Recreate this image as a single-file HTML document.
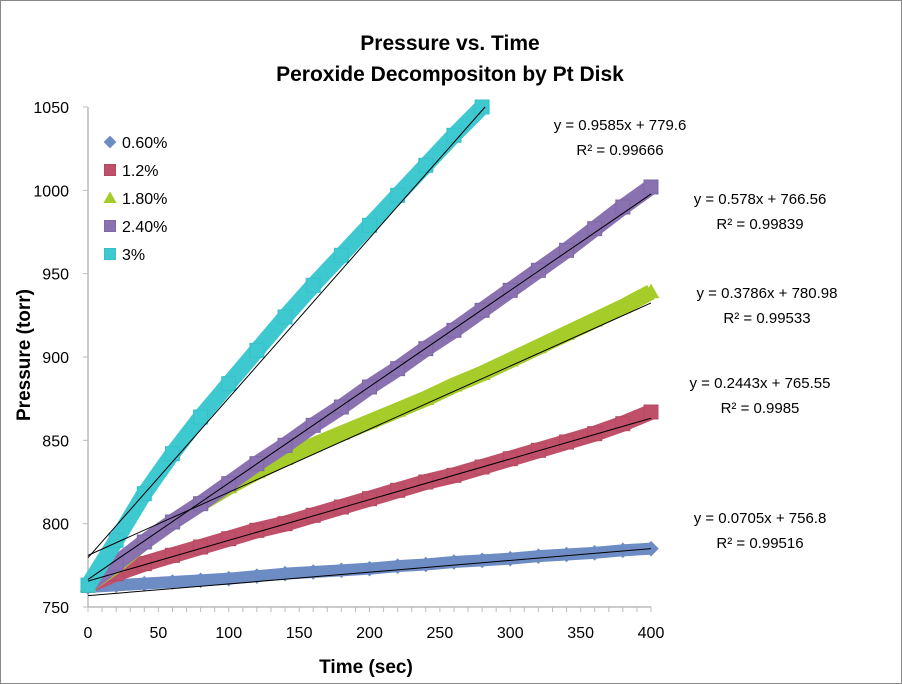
<!DOCTYPE html>
<html><head><meta charset="utf-8"><style>
html,body{margin:0;padding:0;background:#fff}
svg{display:block;font-family:"Liberation Sans",Arial,sans-serif}
</style></head><body>
<svg id="chart" width="902" height="684" viewBox="0 0 902 684" xmlns="http://www.w3.org/2000/svg">
<rect x="0.5" y="0.5" width="901" height="683" fill="#fff" stroke="#888"/>
<text x="450" y="50" text-anchor="middle" font-size="21" font-weight="bold">Pressure vs. Time</text>
<text x="450" y="81" text-anchor="middle" font-size="21" font-weight="bold">Peroxide Decompositon by Pt Disk</text>
<text x="366" y="673" text-anchor="middle" font-size="19" font-weight="bold">Time (sec)</text>
<text transform="translate(30,355) rotate(-90)" text-anchor="middle" font-size="19" font-weight="bold">Pressure (torr)</text>
<g id="axes"></g>
<g id="series"></g>
<g id="trends"></g>
<g id="legend"></g>
<g id="eqs"></g>
</svg>
<script>
const times=[0,20,40,60,80,100,120,140,160,180,200,220,240,260,280,300,320,340,360,380,400];
const s06=[762,763,764,765,766,767,768.5,770,771,772,773,774.5,775.5,777,778,779,780.5,781.5,782.5,784,785];
const s12=[763,770,776,781,786,791,796,800,805,810,815,820,825,829,834,839,844,849,854,860,867];
const s18=[763,775,789,801,812,822,831,839,847,854,861,868,875,883,890,898,906,914,922,930,939];
const s24=[763,776,789,801,812,824,836,847,859,870,882,893,905,916,928,940,952,964,977,990,1002];
const s30=[763,790,818,842,864,884,904,924,943,961,979,997,1015,1033,1050];
const seriesNames=["0.60%","1.2%","1.80%","2.40%","3%"];
const slopes=[0.0705,0.2443,0.3786,0.578,0.9585];
const intercepts=[756.8,765.55,780.98,766.56,779.6];
const r2=["0.99516","0.9985","0.99533","0.99839","0.99666"];
const xTicks=[0,50,100,150,200,250,300,350,400];
const yTicks=[750,800,850,900,950,1000,1050];

const NS="http://www.w3.org/2000/svg";
const X0=88,X1=651,Y0=607,Y1=107;
const xs=t=>X0+(t/400)*(X1-X0);
const ys=v=>Y0-((v-750)/300)*(Y0-Y1);
function mk(tag,attrs,parent){const e=document.createElementNS(NS,tag);for(const k in attrs)e.setAttribute(k,attrs[k]);parent.appendChild(e);return e;}
const axes=document.getElementById('axes');
const a1=mk('line',{x1:X0,y1:Y1,x2:X0,y2:Y0,stroke:'#bbb','stroke-width':1.5},axes);


const a2=mk('line',{x1:X0,y1:Y0,x2:X1,y2:Y0,stroke:'#bbb','stroke-width':1.5},axes);


for(let t=0;t<=400;t+=10){mk('line',{x1:xs(t),y1:Y0,x2:xs(t),y2:Y0+5,stroke:'#bbb'},axes);}
xTicks.forEach(t=>{const e=mk('text',{x:xs(t),y:Y0+31,'text-anchor':'middle','font-size':16},axes);e.textContent=t;

});
yTicks.forEach(v=>{mk('line',{x1:X0-5,y1:ys(v),x2:X0,y2:ys(v),stroke:'#bbb'},axes);
const e=mk('text',{x:X0-19,y:ys(v)+6,'text-anchor':'end','font-size':16},axes);e.textContent=v;

});

const colors=["#6d8cc4","#c0506a","#a6cc2a","#8a72b0","#3ec8d0"];
const edges=["#7a86b8","#b44a62","#99c21f","#7e68a8","#38c0c8"];
const data=[s06,s12,s18,s24,s30];
const sg=document.getElementById('series');
function marker(i,x,y,g,sz){
 let e;
 if(i===0)e=mk('rect',{x:x-sz/2,y:y-sz/2,width:sz,height:sz,fill:colors[0],transform:`rotate(45 ${x} ${y})`},g);
 else if(i===2)e=mk('polygon',{points:`${x},${y-sz*0.6} ${x+sz*0.6},${y+sz*0.45} ${x-sz*0.6},${y+sz*0.45}`,fill:colors[2]},g);
 else e=mk('rect',{x:x-sz/2,y:y-sz/2,width:sz,height:sz,fill:colors[i],stroke:edges[i]},g);
 return e;
}
data.forEach((arr,i)=>{
 const g=mk('g',{},sg);
 
 
 const pts=arr.map((v,k)=>xs(times[k])+','+ys(v)).join(' ');
 mk('polyline',{points:pts,fill:'none',stroke:colors[i],'stroke-width':i===0?12:16,'stroke-linejoin':'round'},g);
 arr.forEach((v,k)=>{const m=marker(i,xs(times[k]),ys(v),g,i===0?11:14);
 
 });
});
const tg=document.getElementById('trends');
slopes.forEach((s,i)=>{
 let tEnd=400; const vEnd=intercepts[i]+s*400; if(vEnd>1050)tEnd=(1050-intercepts[i])/s;
 const l=mk('line',{x1:xs(0),y1:ys(intercepts[i]),x2:xs(tEnd),y2:ys(intercepts[i]+s*tEnd),stroke:'#000','stroke-width':1},tg);
 
 
});
const lg=document.getElementById('legend');
seriesNames.forEach((n,i)=>{
 const y=142+i*28;
 const m=marker(i,110,y,lg,i===0?9:11);
 
 
 const t=mk('text',{x:122,y:y+6,'font-size':16},lg);t.textContent=n;
 
 
});
const eqPos=[[760,523],[760,388],[767,298],[760,204],[620,130]];
const eg=document.getElementById('eqs');
eqPos.forEach((p,i)=>{
 const e1=mk('text',{x:p[0],y:p[1],'text-anchor':'middle','font-size':15},eg);
 e1.textContent='y = '+slopes[i]+'x + '+intercepts[i];
 
 
 const e2=mk('text',{x:p[0],y:p[1]+25,'text-anchor':'middle','font-size':15},eg);
 e2.textContent='R² = '+r2[i];
 
 
});
</script>
</body></html>
